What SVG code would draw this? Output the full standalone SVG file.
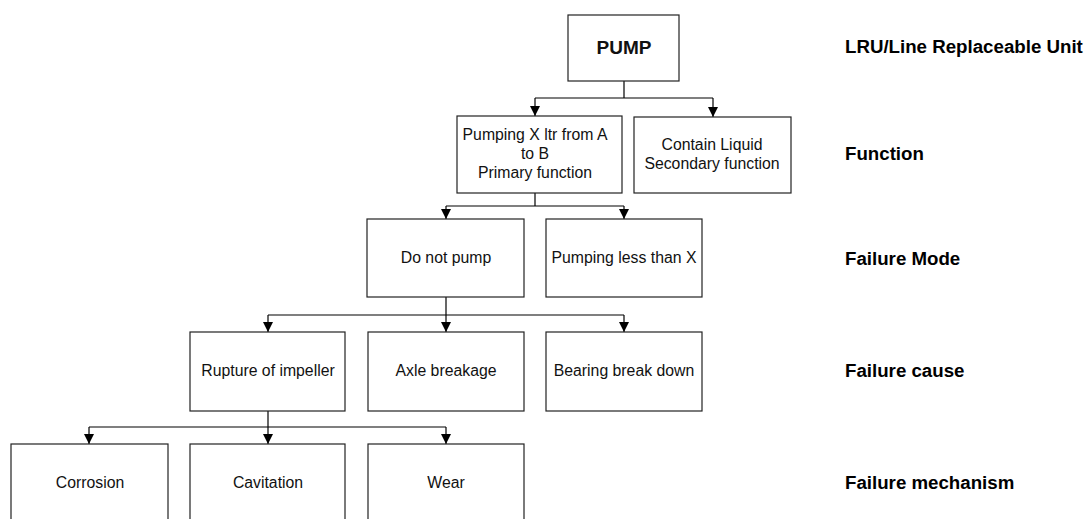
<svg xmlns="http://www.w3.org/2000/svg" width="1086" height="519" viewBox="0 0 1086 519">
<defs>
<style>
.box{fill:#fff;stroke:#222;stroke-width:1.2}
.t{font-family:"Liberation Sans",Arial,sans-serif;font-size:15.8px;fill:#111;text-anchor:middle}
.lbl{font-family:"Liberation Sans",Arial,sans-serif;font-size:18.7px;font-weight:bold;fill:#000}
.c{fill:none;stroke:#000;stroke-width:1.2}
</style>
<marker id="ah" viewBox="0 0 10 10" refX="10" refY="5" markerWidth="10" markerHeight="10" markerUnits="userSpaceOnUse" orient="auto">
<path d="M0,0 L10,5 L0,10 Z" fill="#000"/>
</marker>
</defs>
<rect width="1086" height="519" fill="#fff"/>
<g id="connectors">
<path class="c" d="M624,81 V98"/>
<path class="c" d="M535,98 H713"/>
<path class="c" d="M535,98 V116" marker-end="url(#ah)"/>
<path class="c" d="M713,98 V117" marker-end="url(#ah)"/>
<path class="c" d="M535,193 V206"/>
<path class="c" d="M446,206 H624"/>
<path class="c" d="M446,206 V219" marker-end="url(#ah)"/>
<path class="c" d="M624,206 V219" marker-end="url(#ah)"/>
<path class="c" d="M446,297 V315"/>
<path class="c" d="M268,315 H624"/>
<path class="c" d="M268,315 V332" marker-end="url(#ah)"/>
<path class="c" d="M446,315 V332" marker-end="url(#ah)"/>
<path class="c" d="M624,315 V332" marker-end="url(#ah)"/>
<path class="c" d="M268,411 V427"/>
<path class="c" d="M89,427 H446"/>
<path class="c" d="M89,427 V444" marker-end="url(#ah)"/>
<path class="c" d="M268,427 V444" marker-end="url(#ah)"/>
<path class="c" d="M446,427 V444" marker-end="url(#ah)"/>
</g>
<g id="pump"><rect class="box" x="568" y="15" width="111" height="66"/><text class="t" x="624" y="54" style="font-size:19px;font-weight:bold">PUMP</text></g>
<g id="primary"><rect class="box" x="457" y="116" width="165" height="77"/>
<text class="t" x="535" y="140">Pumping X ltr from A</text><text class="t" x="535" y="159">to B</text><text class="t" x="535" y="178">Primary function</text></g>
<g id="secondary"><rect class="box" x="634" y="117" width="157" height="76"/>
<text class="t" x="712" y="150">Contain Liquid</text><text class="t" x="712" y="169">Secondary function</text></g>
<g id="donotpump"><rect class="box" x="367" y="219" width="157" height="78"/><text class="t" x="446" y="263">Do not pump</text></g>
<g id="pumpingless"><rect class="box" x="546" y="219" width="156" height="78"/><text class="t" x="624" y="263">Pumping less than X</text></g>
<g id="rupture"><rect class="box" x="190" y="332" width="155" height="79"/><text class="t" x="268" y="376">Rupture of impeller</text></g>
<g id="axle"><rect class="box" x="368" y="332" width="156" height="79"/><text class="t" x="446" y="376">Axle breakage</text></g>
<g id="bearing"><rect class="box" x="546" y="332" width="156" height="79"/><text class="t" x="624" y="376">Bearing break down</text></g>
<g id="corrosion"><rect class="box" x="11" y="444" width="157" height="85"/><text class="t" x="90" y="488">Corrosion</text></g>
<g id="cavitation"><rect class="box" x="190" y="444" width="155" height="85"/><text class="t" x="268" y="488">Cavitation</text></g>
<g id="wear"><rect class="box" x="368" y="444" width="156" height="85"/><text class="t" x="446" y="488">Wear</text></g>
<g id="labels">
<text class="lbl" x="845" y="53">LRU/Line Replaceable Unit</text>
<text class="lbl" x="845" y="160">Function</text>
<text class="lbl" x="845" y="265">Failure Mode</text>
<text class="lbl" x="845" y="377">Failure cause</text>
<text class="lbl" x="845" y="489">Failure mechanism</text>
</g>
</svg>
